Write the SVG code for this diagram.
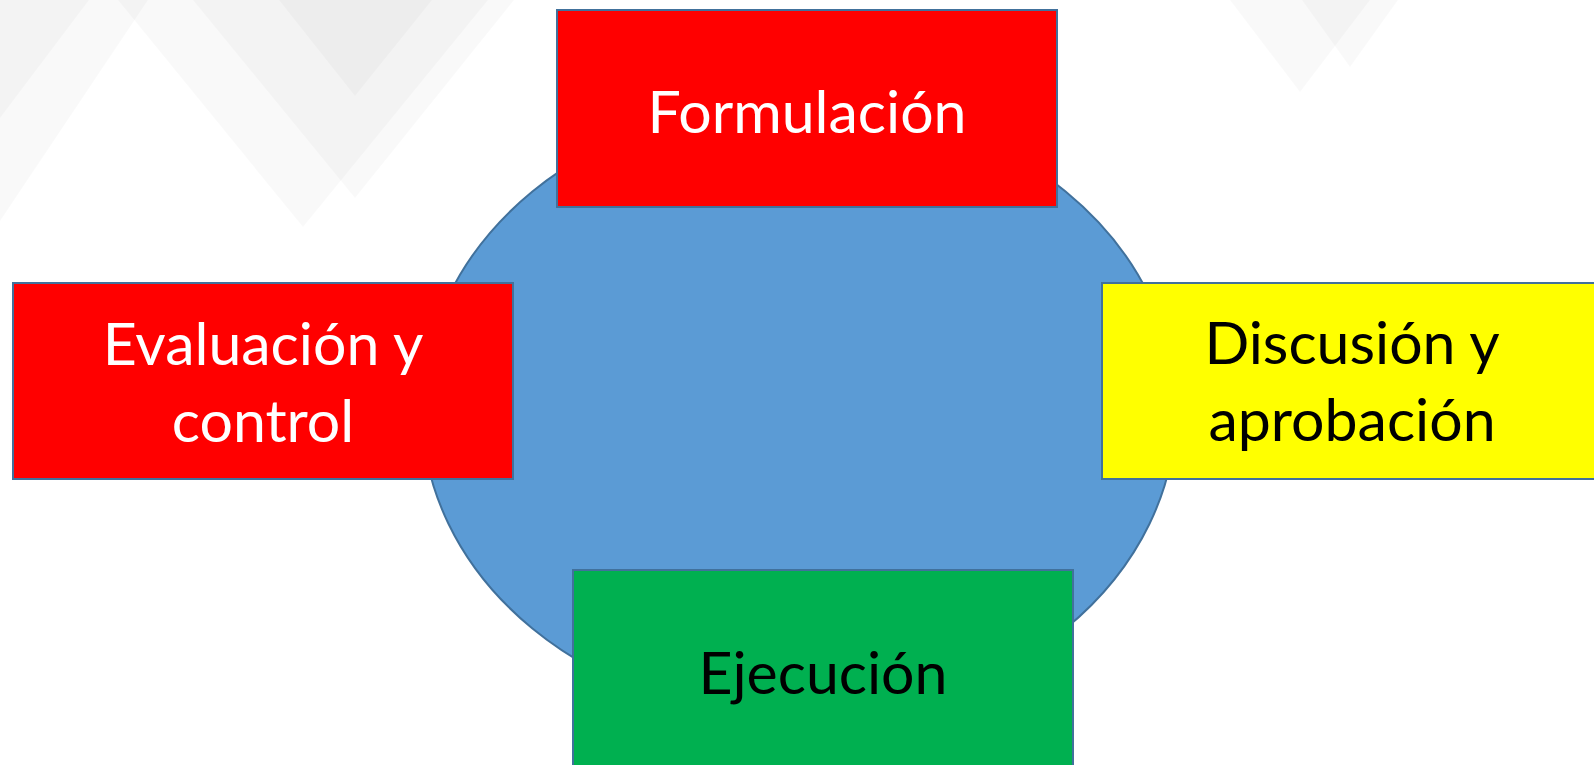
<svg xmlns="http://www.w3.org/2000/svg" width="1594" height="765" viewBox="0 0 1594 765">
<style>
.bg{fill:#000;fill-opacity:0.022}
.box{stroke:#41719C;stroke-width:2}
.lbl{font-family:Lato,"Open Sans","Liberation Sans",sans-serif;font-size:59px;text-anchor:middle}
</style>
<rect width="1594" height="765" fill="#fff"/>
<g id="background">
<polygon class="bg" points="0,0 148,0 0,221"/>
<polygon class="bg" points="0,0 89,0 0,118"/>
<polygon class="bg" points="118,0 488,0 303,227"/>
<polygon class="bg" points="193,0 514,0 355,198"/>
<polygon class="bg" points="279,0 432,0 355,96"/>
<polygon class="bg" points="1230,0 1370,0 1300,92"/>
<polygon class="bg" points="1302,0 1398,0 1350,67"/>
</g>
<g id="cycle">
<ellipse cx="799" cy="410" rx="377" ry="309" fill="#5B9BD5" stroke="#41719C" stroke-width="2"/>
</g>
<g id="connectors"/>
<g id="formulacion">
<rect class="box" x="557" y="10" width="500" height="197" fill="#FF0000"/>
<text class="lbl" x="807" y="133" fill="#fff">Formulación</text>
</g>
<g id="evaluacion">
<rect class="box" x="13" y="283" width="500" height="196" fill="#FF0000"/>
<text class="lbl" x="263" y="365" fill="#fff">Evaluación y</text>
<text class="lbl" x="263" y="442" fill="#fff">control</text>
</g>
<g id="discusion">
<rect class="box" x="1102" y="283" width="500" height="196" fill="#FFFF00"/>
<text class="lbl" x="1352" y="364" fill="#000">Discusión y</text>
<text class="lbl" x="1352" y="441" fill="#000">aprobación</text>
</g>
<g id="ejecucion">
<rect class="box" x="573" y="570" width="500" height="205" fill="#00B050"/>
<text class="lbl" x="823" y="694" fill="#000">Ejecución</text>
</g>
</svg>
